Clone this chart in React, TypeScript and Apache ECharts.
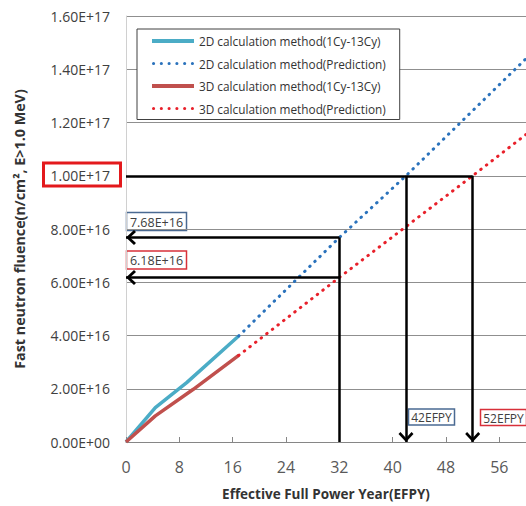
import React, { useEffect, useRef } from "react";
import * as echarts from "echarts";

// ---- data ----
const seriesNames = [
  "2D calculation method(1Cy-13Cy)",
  "2D calculation method(Prediction)",
  "3D calculation method(1Cy-13Cy)",
  "3D calculation method(Prediction)",
];
const calc2D: [number, number][] = [[0, 0], [4.4, 1.29e16], [9.1, 2.23e16], [16.9, 3.98e16]];
const pred2D: [number, number][] = [[16.9, 3.98e16], [32, 7.68e16], [42, 1.0e17], [60, 1.44e17]];
const calc3D: [number, number][] = [[0, 0], [4.4, 0.98e16], [10.1, 1.98e16], [16.9, 3.25e16]];
const pred3D: [number, number][] = [[16.9, 3.25e16], [32, 6.18e16], [52, 1.0e17], [60, 1.155e17]];

const refFluence = 1.0e17;
const refYears = [42, 52];
const nowYear = 32;
const nowFluence = [7.68e16, 6.18e16];
const boxLabels = ["7.68E+16", "6.18E+16", "42EFPY", "52EFPY"];

const xTicks = { min: 0, max: 60, interval: 8 };
const yTicks = { min: 0, max: 1.6e17, interval: 2e16 };

const colors = ["#4BACC6", "#2A72BC", "#C0504D", "#E8202A"];
const FONT = "'Open Sans', 'Noto Sans', sans-serif";

function fmtExp(v: number): string {
  if (v === 0) return "0.00E+00";
  const e = Math.floor(Math.log10(v) + 1e-9);
  const m = v / Math.pow(10, e);
  return m.toFixed(2) + "E+" + String(e).padStart(2, "0");
}

const chevron = "path://M0,7.2L7,0L14,7.2L12.2,9L7,3.6L1.8,9Z";
function dotsPath(): string {
  let p = "path://";
  for (let i = 0; i < 6; i++) {
    const x = i * 7.4;
    p += `M${x},1.5a1.5,1.5 0 1,0 3,0a1.5,1.5 0 1,0 -3,0`;
  }
  return p;
}

const arrowEnd = { symbol: chevron, symbolSize: [15, 10], symbolOffset: [0, 5] };

function boxLabel(text: string, x: number, y: number, w: number, h: number, stroke: string, size: number) {
  return {
    type: "group",
    x,
    y,
    z: 100,
    children: [
      { type: "rect", shape: { x: 0, y: 0, width: w, height: h }, style: { fill: "#fff", stroke, lineWidth: 1.5 } },
      {
        type: "text",
        x: w / 2,
        y: h / 2 + 0.5,
        style: { text, fill: "#404040", font: `${size}px ${FONT}`, textAlign: "center", textVerticalAlign: "middle" },
      },
    ],
  };
}

export default function App() {
  const ref = useRef<HTMLDivElement>(null);
  useEffect(() => {
    if (!ref.current) return;
    const chart = echarts.init(ref.current, null, { renderer: "svg" });
    const blueGray = "#4A6A92";
    const redBox = "#D8303A";
    chart.setOption({
      animation: false,
      backgroundColor: "#fff",
      textStyle: { fontFamily: FONT },
      grid: { left: 126, top: 16, width: 402, height: 427, containLabel: false },
      legend: {
        orient: "vertical",
        left: 137,
        top: 29,
        padding: [5, 14, 4, 15],
        itemWidth: 42,
        itemHeight: 4,
        itemGap: 8.5,
        borderColor: "#404040",
        borderWidth: 1,
        backgroundColor: "#fff",
        textStyle: { fontSize: 11.8, color: "#333", lineHeight: 14, fontFamily: FONT },
        data: [
          { name: seriesNames[0], icon: "rect" },
          { name: seriesNames[1], icon: dotsPath() },
          { name: seriesNames[2], icon: "rect" },
          { name: seriesNames[3], icon: dotsPath() },
        ],
      },
      xAxis: {
        type: "value",
        min: xTicks.min,
        max: xTicks.max,
        interval: xTicks.interval,
        name: "Effective Full Power Year(EFPY)",
        nameLocation: "middle",
        nameGap: 45,
        nameTextStyle: { fontWeight: "bold", fontSize: 13.5, color: "#333" },
        axisLine: { show: true, lineStyle: { color: "#868686", width: 1 } },
        axisTick: { show: true, inside: true, length: 5, lineStyle: { color: "#868686" } },
        axisLabel: { fontSize: 16, color: "#595959", margin: 17, showMaxLabel: false },
        splitLine: { show: false },
      },
      yAxis: {
        type: "value",
        min: yTicks.min,
        max: yTicks.max,
        interval: yTicks.interval,
        name: "Fast neutron fluence(n/cm\u00B2, E>1.0 MeV)",
        nameLocation: "middle",
        nameRotate: 90,
        nameGap: 100,
        nameTextStyle: { fontWeight: "bold", fontSize: 14.3, color: "#333" },
        axisLine: { show: true, lineStyle: { color: "#d0d0d0", width: 1 } },
        axisTick: { show: false },
        axisLabel: { fontSize: 14, color: "#404040", margin: 16, formatter: (v: number) => fmtExp(v) },
        splitLine: { show: true, lineStyle: { color: "#8f8f8f", width: 1 } },
      },
      series: [
        {
          name: seriesNames[0],
          type: "line",
          data: calc2D,
          color: colors[0],
          symbol: "none",
          lineStyle: { width: 3.5, color: colors[0] },
          z: 3,
        },
        {
          name: seriesNames[1],
          type: "line",
          data: pred2D,
          color: colors[1],
          symbol: "none",
          lineStyle: { width: 3, color: colors[1], type: [0.5, 6.6], cap: "round" },
          z: 3,
        },
        {
          name: seriesNames[2],
          type: "line",
          data: calc3D,
          color: colors[2],
          symbol: "none",
          lineStyle: { width: 3.5, color: colors[2] },
          z: 3,
        },
        {
          name: seriesNames[3],
          type: "line",
          data: pred3D,
          color: colors[3],
          symbol: "none",
          lineStyle: { width: 3, color: colors[3], type: [0.5, 6.6], cap: "round" },
          z: 3,
        },
        {
          name: "annotations",
          type: "line",
          data: [],
          z: 4,
          markLine: {
            silent: true,
            symbol: "none",
            label: { show: false },
            lineStyle: { color: "#000", width: 2.5, type: "solid" },
            emphasis: { disabled: true },
            data: [
              [{ coord: [0, refFluence] }, { coord: [refYears[1], refFluence] }],
              [{ coord: [refYears[0], refFluence] }, { coord: [refYears[0], 0], ...arrowEnd }],
              [{ coord: [refYears[1], refFluence] }, { coord: [refYears[1], 0], ...arrowEnd }],
              [{ coord: [nowYear, 0] }, { coord: [nowYear, nowFluence[0]] }],
              [{ coord: [nowYear, nowFluence[0]] }, { coord: [0, nowFluence[0]], ...arrowEnd }],
              [{ coord: [nowYear, nowFluence[1]] }, { coord: [0, nowFluence[1]], ...arrowEnd }],
            ],
          },
        },
      ],
      graphic: [
        boxLabel(boxLabels[0], 126.5, 212.5, 60, 18, blueGray, 12.5),
        boxLabel(boxLabels[1], 126.5, 251, 60, 18, redBox, 12.5),
        boxLabel(boxLabels[2], 408.5, 409, 46, 16, blueGray, 12),
        boxLabel(boxLabels[3], 480.5, 409.5, 46, 16, redBox, 12),
        {
          type: "rect",
          z: 100,
          shape: { x: 43.5, y: 163, width: 77, height: 23 },
          style: { fill: "none", stroke: "#E3191C", lineWidth: 3 },
        },
      ],
    });
    return () => chart.dispose();
  }, []);
  return <div ref={ref} style={{ position: "fixed", left: 0, top: 0, width: 526, height: 506 }} />;
}
